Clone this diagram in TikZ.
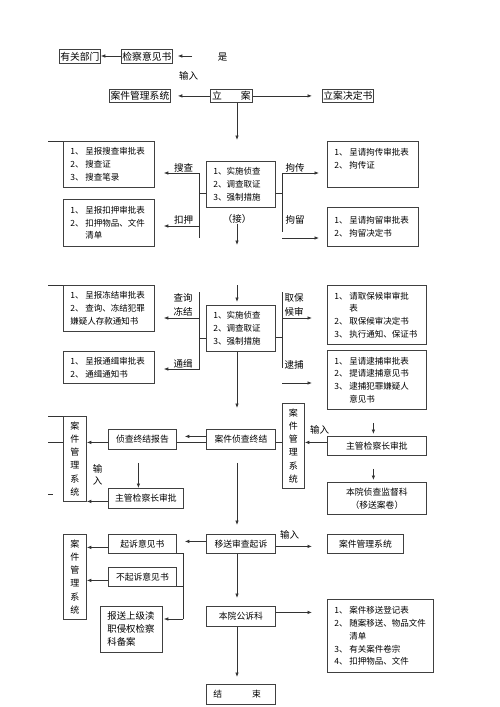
\documentclass[tikz,border=0pt]{standalone}
\usepackage{fontspec}
\setmainfont{Noto Sans CJK SC}
\usetikzlibrary{arrows.meta}
\newcommand{\nli}[2]{\makebox[15pt][l]{#1}#2}
\newcommand{\nlc}[1]{\hspace*{15pt}#1}
\begin{document}
\begin{tikzpicture}[x=1pt,y=-1pt,
  ln/.style={draw=black!80, line width=0.7pt},
  arr/.style={ln, -{Latex[length=4.5pt,width=3.5pt]}},
  bx/.style={draw=black!75, line width=0.8pt, anchor=north west, inner sep=0pt, align=center, font=\fontsize{8.8}{10}\selectfont},
  tbx/.style={bx, font=\fontsize{9.8}{11}\selectfont},
  sz/.style 2 args={minimum width=#1, minimum height=#2},
  lbx/.style n args={3}{bx, minimum width=#1, minimum height=#2, text width=#3, inner xsep=7pt, align=left, font=\fontsize{8.5}{12.7}\selectfont},
  vbx/.style={bx, minimum width=23pt, minimum height=85pt, font=\fontsize{9}{13.2}\selectfont},
  lab/.style={font=\fontsize{9.5}{12.5}\selectfont, inner sep=0pt, align=center},
]
\fill[white] (0,0) rectangle (500,707);
\useasboundingbox (0,0) rectangle (500,707);
\coordinate (cx) at (237,0);

% ---------- top ----------
\node[tbx, sz={41pt}{14pt}] (yg) at (59,49) {有关部门};
\node[tbx, sz={51pt}{14pt}] (jcyj) at (121,49) {检察意见书};
\node[lab] (shi) at (222.5,57) {是};
\coordinate (c1) at (192,56);
\node[lab] (sr1) at (188.5,76) {输入};
\node[tbx, sz={61pt}{13pt}] (ajgl1) at (109,89) {案件管理系统};
\node[tbx, sz={42pt}{13pt}] (la) at (210,89) {立\hspace{19pt}案};
\node[tbx, sz={51pt}{13pt}] (ladj) at (322,89) {立案决定书};
\draw[arr, shorten >=5pt] (c1) -- (c1 -| jcyj.east);
\draw[arr] (jcyj.west |- c1) -- (c1 -| yg.east);
\draw[arr, shorten >=7pt] (la.west) -- (ajgl1.east);
\draw[arr, shorten >=10pt] (la.east) -- (ladj.west);

% ---------- section 1 ----------
\node[lbx={69pt}{46pt}{55pt}] (zc1) at (206,161) {1、实施侦查\\2、调查取证\\3、强制措施};
\node[lab] (jie) at (237,219) {（接）};
\coordinate (c2) at (237,245);
\draw[arr, shorten >=21pt] (la.south -| cx) -- (zc1.north -| cx);
\draw[arr] (jie.south) -- (c2);

\node[lbx={91pt}{46pt}{77pt}] (ss) at (63,141) {\nli{1、}{呈报搜查审批表}\\\nli{2、}{搜查证}\\\nli{3、}{搜查笔录}};
\node[lbx={91pt}{47pt}{77pt}] (ky) at (63,199) {\nli{1、}{呈报扣押审批表}\\\nli{2、}{扣押物品、文件}\\\nlc{清单}};
\node[lbx={91pt}{46pt}{77pt}] (jc) at (327,141) {\nli{1、}{呈请拘传审批表}\\\nli{2、}{拘传证}\\\mbox{}};
\node[lbx={91pt}{39pt}{77pt}] (jl) at (327,207) {\nli{1、}{呈请拘留审批表}\\\nli{2、}{拘留决定书}};
\coordinate (st1) at (48,141);
\draw[ln] (st1) -- (ss.north west);

\coordinate (L1t) at (199,173); \coordinate (L1m) at (199,193);
\coordinate (L1k) at (199,226); \coordinate (L1b) at (199,238);
\draw[ln] (L1t) -- (L1b);
\draw[ln] (zc1.west |- L1m) -- (L1m);
\draw[arr, shorten >=9pt] (L1t) -- (L1t -| ss.east);
\draw[arr, shorten >=9pt] (L1k) -- (L1k -| ky.east);
\node[lab] (lss) at (183.5,167.5) {搜查};
\node[lab] (lky) at (183.5,220) {扣押};

\coordinate (R1t) at (282,173); \coordinate (R1m) at (282,193);
\coordinate (R1b) at (282,232); \coordinate (R1k) at (282,238);
\coordinate (R1s) at (282,238);
\draw[ln] (R1t) -- (R1b);
\draw[ln] (zc1.east |- R1m) -- (R1m);
\draw[arr, shorten >=8pt] (R1t) -- (R1t -| jc.west);
\draw[arr, shorten >=8pt] (R1k) -- (R1k -| jl.west);
\node[lab] (ljc) at (295,167.5) {拘传};
\node[lab] (ljl) at (295,219.5) {拘留};

% ---------- section 2 ----------
\node[lbx={69pt}{46pt}{55pt}] (zc2) at (206,305) {1、实施侦查\\2、调查取证\\3、强制措施};
\coordinate (c3) at (237,285);
\draw[arr, shorten >=3pt] (c3) -- (zc2.north -| cx);

\node[lbx={91pt}{46pt}{77pt}] (dj) at (63,285) {\nli{1、}{呈报冻结审批表}\\\nli{2、}{查询、冻结犯罪}\\嫌疑人存款通知书};
\node[lbx={91pt}{32pt}{77pt}] (tj) at (63,351) {\nli{1、}{呈报通缉审批表}\\\nli{2、}{通缉通知书}};
\node[lbx={99pt}{59pt}{85pt}] (qb) at (327,285) {\nli{1、}{请取保候审审批}\\\nlc{表}\\\nli{2、}{取保候审决定书}\\\nli{3、}{执行通知、保证书}};
\node[lbx={99pt}{59pt}{85pt}] (db) at (327,350) {\nli{1、}{呈请逮捕审批表}\\\nli{2、}{提请逮捕意见书}\\\nli{3、}{逮捕犯罪嫌疑人}\\\nlc{意见书}};
\coordinate (st2) at (48,285);
\draw[ln] (st2) -- (dj.north west);

\coordinate (L2t) at (199,292); \coordinate (L2a) at (199,318);
\coordinate (L2m) at (199,338); \coordinate (L2b) at (199,370);
\coordinate (L2k) at (199,369);
\draw[ln] (L2t) -- (L2b);
\draw[ln] (zc2.west |- L2m) -- (L2m);
\draw[arr, shorten >=9pt] (L2a) -- (L2a -| dj.east);
\draw[arr, shorten >=9pt] (L2k) -- (L2k -| tj.east);
\node[lab, font=\fontsize{9.5}{14}\selectfont] (lcx) at (183,305) {查询\\冻结};
\node[lab] (ltj) at (183,364) {通缉};

\coordinate (R2t) at (282,292); \coordinate (R2a) at (282,318);
\coordinate (R2m) at (282,337); \coordinate (R2b) at (282,368);
\coordinate (R2k) at (282,383);
\draw[ln] (R2t) -- (R2b);
\draw[ln] (zc2.east |- R2m) -- (R2m);
\draw[arr, shorten >=15pt] (R2a) -- (R2a -| qb.west);
\draw[arr, shorten >=15pt] (R2k) -- (R2k -| db.west);
\node[lab, font=\fontsize{9.5}{14}\selectfont, align=left] (lqb) at (294,305) {取保\\候审};
\node[lab] (ldb) at (294,365) {逮捕};

% ---------- section 3 ----------
\node[bx, sz={69pt}{20pt}] (ajzj) at (206,429) {案件侦查终结};
\node[bx, sz={68pt}{20pt}] (zjbg) at (108,429) {侦查终结报告};
\node[vbx] (ajgl2) at (63,416) {案\\件\\管\\理\\系\\统};
\node[bx, sz={75pt}{20pt}] (zgL) at (108,488) {主管检察长审批};
\node[vbx, minimum width=22pt] (ajgl3) at (282,403) {案\\件\\管\\理\\系\\统};
\node[bx, sz={99pt}{19pt}] (zgR) at (327,436) {主管检察长审批};
\node[bx, sz={99pt}{32pt}, font=\fontsize{8.8}{13}\selectfont] (jdk) at (327,482) {本院侦查监督科\\（移送案卷）};

\draw[arr, shorten >=21pt] (zc2.south -| cx) -- (ajzj.north -| cx);
\draw[arr, shorten >=8pt] ([yshift=3pt]ajzj.west) -- ([yshift=3pt]zjbg.east);
\draw[ln] ([yshift=-3pt]zjbg.east) -- ([yshift=-3pt]ajzj.west);
\draw[arr] ([yshift=-3pt]zjbg.west) -- ([yshift=-3pt]zjbg.west -| ajgl2.east);
\draw[arr, shorten <=13pt] ([xshift=-4pt]zjbg.south) -- ([xshift=-4pt]zjbg.south |- zgL.north);
\draw[arr] ([yshift=-3pt]zgL.west) -- ([yshift=-3pt]zgL.west -| ajgl2.east);
\node[lab, font=\fontsize{9.5}{12.5}\selectfont] (sr2) at (97.5,475) {输\\入};
\coordinate (st3) at (48,416); \coordinate (st4) at (48,442);
\coordinate (st5) at (48,494); \coordinate (st6) at (53,494);
\coordinate (st7) at (63,442);
\draw[ln] (st3) -- (ajgl2.north west);
\draw[ln] (st4) -- (st7);
\draw[ln] (st5) -- (st6);

\draw[ln] ([yshift=-3pt]ajzj.east) -- ([yshift=-3pt]ajzj.east -| ajgl3.west);
\draw[arr] ([yshift=3.5pt]zgR.west) -- ([yshift=3.5pt]zgR.west -| ajgl3.east);
\node[lab] (sr3) at (319.5,430) {输入};
\draw[arr, shorten <=13pt, shorten >=2pt] ([xshift=-3.5pt]db.south) -- ([xshift=-3.5pt]zgR.north);
\draw[arr, shorten <=13pt, shorten >=2pt] ([xshift=-3.5pt]zgR.south) -- ([xshift=-3.5pt]jdk.north);

% ---------- section 4 ----------
\node[bx, sz={69pt}{19pt}] (ys) at (206,534) {移送审查起诉};
\node[bx, sz={68pt}{19pt}] (qs) at (108,534) {起诉意见书};
\node[bx, sz={68pt}{19pt}] (bqs) at (108,567) {不起诉意见书};
\node[vbx] (ajgl4) at (63,534) {案\\件\\管\\理\\系\\统};
\node[lbx={62pt}{46pt}{48pt}, font=\fontsize{9.4}{13}\selectfont] (bs) at (100,606) {报送上级渎\\职侵权检察\\科备案};
\node[bx, sz={76pt}{19pt}] (ajgl5) at (327,534) {案件管理系统};
\node[bx, sz={69pt}{20pt}] (gsk) at (206,606) {本院公诉科};
\node[lbx={106pt}{73pt}{92pt}, font=\fontsize{8.5}{12.9}\selectfont] (yj) at (327,599) {\nli{1、}{案件移送登记表}\\\nli{2、}{随案移送、物品文件}\\\nlc{清单}\\\nli{3、}{有关案件卷宗}\\\nli{4、}{扣押物品、文件}};
\node[lbx={69pt}{20pt}{55pt}, font=\fontsize{8.8}{10}\selectfont] (js2) at (206,684) {结\hspace{30pt}束};

\draw[arr, shorten <=13pt, shorten >=9pt] (ajzj.south -| cx) -- (ys.north -| cx);
\draw[arr, shorten >=8pt] ([yshift=2.5pt]ys.west) -- ([yshift=2.5pt]ys.west -| qs.east);
\draw[arr] ([yshift=-3.5pt]qs.west) -- ([yshift=-3.5pt]qs.west -| ajgl4.east);
\draw[arr] ([yshift=-3.5pt]bqs.west) -- ([yshift=-3.5pt]bqs.west -| ajgl4.east);
\coordinate (k1) at (183,619);
\draw[ln] (qs.south east) -- (qs.south east -| k1) -- (k1);
\draw[ln] (bqs.south east) -- (bqs.south east -| k1);
\draw[arr, shorten >=1pt] (k1) -- (k1 -| bs.east);
\draw[arr, shorten >=15pt] ([yshift=-2.5pt]ys.east) -- ([yshift=-2.5pt]ys.east -| ajgl5.west);
\node[lab] (sr4) at (289.5,534.5) {输入};
\draw[arr, shorten >=8pt] (ys.south -| cx) -- (gsk.north -| cx);
\draw[arr, shorten >=15pt] ([yshift=4pt]gsk.east) -- ([yshift=4pt]gsk.east -| yj.west);
\draw[arr, shorten >=7pt] (gsk.south -| cx) -- (js2.north -| cx);
\end{tikzpicture}
\end{document}
